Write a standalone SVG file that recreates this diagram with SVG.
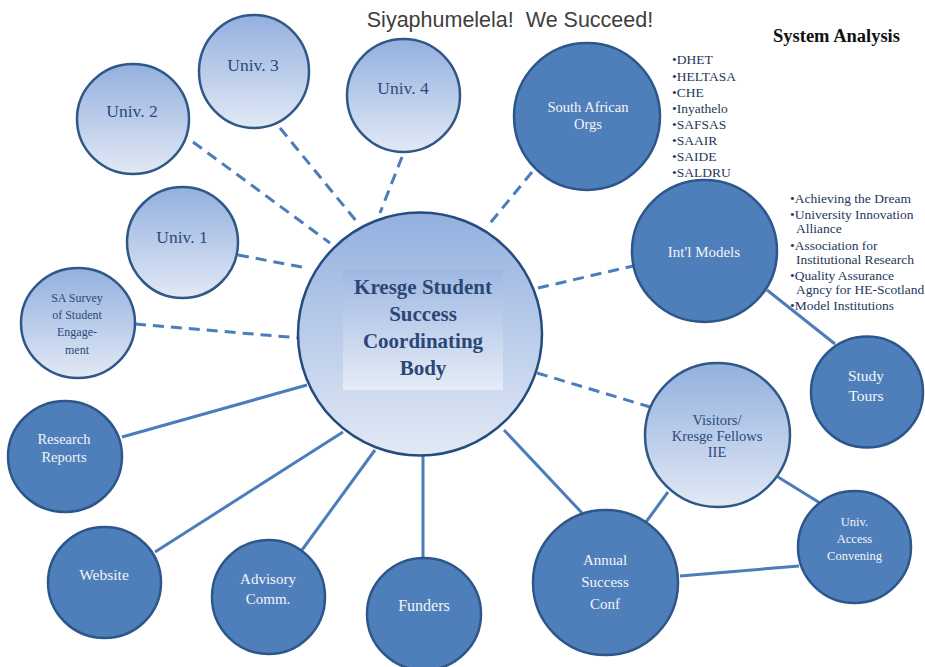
<svg xmlns="http://www.w3.org/2000/svg" width="925" height="667" viewBox="0 0 925 667">
<defs>
<linearGradient id="lg" x1="0" y1="0" x2="0" y2="1">
<stop offset="0" stop-color="#93B0DF"/>
<stop offset="0.5" stop-color="#BACCEA"/>
<stop offset="1" stop-color="#E2E9F5"/>
</linearGradient>
<linearGradient id="rg" x1="0" y1="0" x2="0" y2="1">
<stop offset="0" stop-color="#9FB8E2"/>
<stop offset="1" stop-color="#E6ECF7"/>
</linearGradient>
<style>
.lt{fill:url(#lg);stroke:#2F5887;stroke-width:2.5}
.dk{fill:#4F7FBA;stroke:#2D578A;stroke-width:2.5}
.cn{stroke:#4A7DBA;stroke-width:3;fill:none}
.ds{stroke-dasharray:11 7}
text{font-family:"Liberation Serif","Times New Roman",serif;text-anchor:middle}
.tl{fill:#2B4A7B}
.tw{fill:#F3F5F8}
.ls{fill:#25375A;font-size:13.5px;text-anchor:start}
</style>
</defs>
<text x="510" y="27" xml:space="preserve" style="font-family:'Liberation Sans',Arial,sans-serif;font-size:21.5px;fill:#404040">Siyaphumelela!  We Succeed!</text>
<text x="773" y="42" style="font-size:18.5px;font-weight:bold;fill:#111;text-anchor:start">System Analysis</text>

<g id="connectors">
<line class="cn ds" x1="193" y1="142" x2="330" y2="243"/>
<line class="cn ds" x1="280" y1="128" x2="357" y2="222"/>
<line class="cn ds" x1="402" y1="157" x2="380" y2="213"/>
<line class="cn ds" x1="532" y1="172" x2="487" y2="227"/>
<line class="cn ds" x1="238" y1="255" x2="307" y2="268"/>
<line class="cn ds" x1="135" y1="324" x2="300" y2="338"/>
<line class="cn ds" x1="538" y1="288" x2="633" y2="266"/>
<line class="cn ds" x1="537" y1="373" x2="650" y2="407"/>
<line class="cn" x1="122" y1="437" x2="307" y2="385"/>
<line class="cn" x1="155" y1="552" x2="343" y2="432"/>
<line class="cn" x1="302" y1="550" x2="375" y2="450"/>
<line class="cn" x1="423" y1="557" x2="423" y2="455"/>
<line class="cn" x1="504" y1="430" x2="582" y2="513"/>
<line class="cn" x1="668" y1="492" x2="646" y2="522"/>
<line class="cn" x1="778" y1="477" x2="820" y2="503"/>
<line class="cn" x1="680" y1="576" x2="799" y2="566"/>
<line class="cn" x1="767" y1="290" x2="835" y2="344"/>
</g>

<g id="central">
<ellipse class="lt" cx="420" cy="334" rx="122" ry="121.5" style="stroke:#244C7E"/>
<rect x="343" y="270" width="160" height="120" fill="url(#rg)"/>
<text class="tl" style="font-size:21px;font-weight:bold;fill:#2A4775"><tspan x="423" y="294">Kresge Student</tspan><tspan x="423" y="321">Success</tspan><tspan x="423" y="348">Coordinating</tspan><tspan x="423" y="375">Body</tspan></text>
</g>
<g id="univ1"><ellipse class="lt" cx="182.5" cy="242.5" rx="55.5" ry="55.5"/><text class="tl" x="182" y="243" font-size="17.5">Univ. 1</text></g>
<g id="univ2"><ellipse class="lt" cx="133" cy="119" rx="56" ry="55"/><text class="tl" x="132" y="117" font-size="17.5">Univ. 2</text></g>
<g id="univ3"><ellipse class="lt" cx="254" cy="71.5" rx="55" ry="56.5"/><text class="tl" x="253" y="71" font-size="17.5">Univ. 3</text></g>
<g id="univ4"><ellipse class="lt" cx="403.5" cy="95.5" rx="56.5" ry="56.5"/><text class="tl" x="403" y="94" font-size="17.5">Univ. 4</text></g>
<g id="sasurvey"><ellipse class="lt" cx="78" cy="323" rx="57" ry="55"/><text class="tl" font-size="12"><tspan x="77" y="302">SA Survey</tspan><tspan x="77" y="319">of Student</tspan><tspan x="77" y="336">Engage-</tspan><tspan x="77" y="354">ment</tspan></text></g>
<g id="visitors"><ellipse class="lt" cx="717.5" cy="435" rx="72.5" ry="72"/><text class="tl" font-size="14.5"><tspan x="717" y="425">Visitors/</tspan><tspan x="717" y="441">Kresge Fellows</tspan><tspan x="717" y="457">IIE</tspan></text></g>

<g id="saorgs"><ellipse class="dk" cx="587" cy="116.5" rx="73" ry="73.5"/><text class="tw" font-size="14.5"><tspan x="588" y="112">South African</tspan><tspan x="588" y="129">Orgs</tspan></text></g>
<g id="intl"><ellipse class="dk" cx="704.5" cy="251" rx="72.5" ry="71"/><text class="tw" x="704" y="257" font-size="15">Int'l Models</text></g>
<g id="study"><ellipse class="dk" cx="867" cy="392" rx="56" ry="55.5"/><text class="tw" font-size="15.5"><tspan x="866" y="381">Study</tspan><tspan x="866" y="401">Tours</tspan></text></g>
<g id="annual"><ellipse class="dk" cx="605.5" cy="582.5" rx="72.5" ry="72.5"/><text class="tw" font-size="15"><tspan x="605" y="565">Annual</tspan><tspan x="605" y="587">Success</tspan><tspan x="605" y="609">Conf</tspan></text></g>
<g id="univaccess"><ellipse class="dk" cx="854.5" cy="547" rx="56.5" ry="56"/><text class="tw" font-size="12.5"><tspan x="854.5" y="526">Univ.</tspan><tspan x="854.5" y="543">Access</tspan><tspan x="854.5" y="560">Convening</tspan></text></g>
<g id="research"><ellipse class="dk" cx="65" cy="456.5" rx="57" ry="55.5"/><text class="tw" font-size="14.5"><tspan x="64" y="444">Research</tspan><tspan x="64" y="462">Reports</tspan></text></g>
<g id="website"><ellipse class="dk" cx="104.5" cy="582.5" rx="56.5" ry="55.5"/><text class="tw" x="104" y="580" font-size="15.5">Website</text></g>
<g id="advisory"><ellipse class="dk" cx="268.5" cy="597" rx="56.5" ry="57"/><text class="tw" font-size="15"><tspan x="268" y="584">Advisory</tspan><tspan x="268" y="604">Comm.</tspan></text></g>
<g id="funders"><ellipse class="dk" cx="424" cy="614" rx="57" ry="56"/><text class="tw" x="424" y="611" font-size="16">Funders</text></g>

<g id="salist">
<text class="ls"><tspan x="672" y="64">•DHET</tspan><tspan x="672" y="80.5">•HELTASA</tspan><tspan x="672" y="96.5">•CHE</tspan><tspan x="672" y="112.5">•Inyathelo</tspan><tspan x="672" y="129">•SAFSAS</tspan><tspan x="672" y="145">•SAAIR</tspan><tspan x="672" y="161">•SAIDE</tspan><tspan x="672" y="177">•SALDRU</tspan></text>
</g>
<g id="intllist">
<text class="ls"><tspan x="790" y="203">•Achieving the Dream</tspan><tspan x="790" y="219">•University Innovation</tspan><tspan x="796" y="233">Alliance</tspan><tspan x="790" y="250">•Association for</tspan><tspan x="796" y="264">Institutional Research</tspan><tspan x="790" y="280">•Quality Assurance</tspan><tspan x="796" y="294">Agncy for HE-Scotland</tspan><tspan x="790" y="310">•Model Institutions</tspan></text>
</g>
</svg>
